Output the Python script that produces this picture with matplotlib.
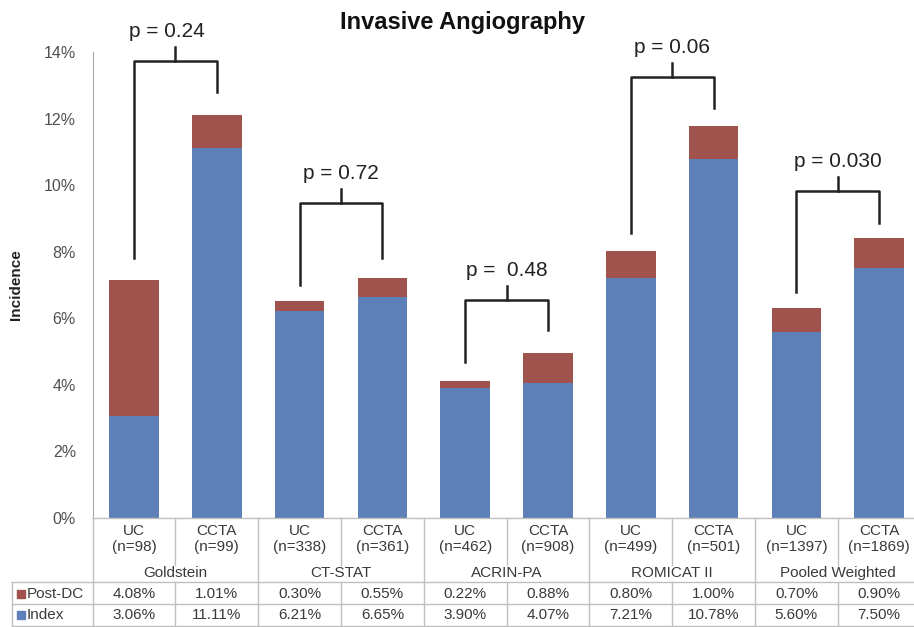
import matplotlib
matplotlib.use("Agg")
import matplotlib.pyplot as plt
from matplotlib.patches import Rectangle

plt.rcParams['font.family'] = ['Liberation Sans', 'DejaVu Sans']

# data
groups = ['Goldstein', 'CT-STAT', 'ACRIN-PA', 'ROMICAT II', 'Pooled Weighted']
arms = ['UC', 'CCTA'] * 5
n_pts = [98, 99, 338, 361, 462, 908, 499, 501, 1397, 1869]
index_pct = [3.06, 11.11, 6.21, 6.65, 3.90, 4.07, 7.21, 10.78, 5.60, 7.50]
postdc_pct = [4.08, 1.01, 0.30, 0.55, 0.22, 0.88, 0.80, 1.00, 0.70, 0.90]
p_labels = ['p = 0.24', 'p = 0.72', 'p =  0.48', 'p = 0.06', 'p = 0.030']
# bracket: left leg bottom, bar top, right leg bottom (in %)
br_left = [7.81, 7.0, 4.69, 8.56, 6.79]
br_top = [13.73, 9.46, 6.55, 13.25, 9.82]
br_right = [12.8, 7.81, 5.65, 12.32, 8.86]

BLUE = '#5D80B8'
RED = '#A0524D'
GRID = '#BFBFBF'
TXT = '#3A3A3A'

W, H = 914, 627
fig = plt.figure(figsize=(W / 100, H / 100), dpi=100)

slot = 82.8
x0 = 92.6
ax = fig.add_axes([x0 / W, (H - 518) / H, 10 * slot / W, (518 - 52) / H])
x = list(range(10))
ax.bar(x, index_pct, width=0.6, color=BLUE, label='Index')
ax.bar(x, postdc_pct, width=0.6, bottom=index_pct, color=RED, label='Post-DC')
ax.set_xlim(-0.5, 9.5)
ax.set_ylim(0, 14)
ax.set_yticks(range(0, 15, 2))
ax.set_yticklabels(['%d%%' % v for v in range(0, 15, 2)], fontsize=11.5, color='#505050')
ax.tick_params(axis='y', length=0, pad=12)
ax.set_xticks([])
for s in ['top', 'right', 'bottom']:
    ax.spines[s].set_visible(False)
ax.spines['left'].set_color('#A6A6A6')
ax.set_ylabel('Incidence', fontsize=11, fontweight='bold', labelpad=15, color='#222222')

# significance brackets
for g in range(5):
    l, r = 2 * g, 2 * g + 1
    m = (l + r) / 2
    top = br_top[g]
    ax.plot([l, l, r, r], [br_left[g], top, top, br_right[g]], color='#222222', lw=1.8, clip_on=False)
    ax.plot([m, m], [top, top + 0.43], color='#222222', lw=1.8, clip_on=False)
    ax.text(m - (0.1 if g == 0 else 0), top + 0.88, p_labels[g], ha='center', va='center',
            fontsize=15, color='#222222', clip_on=False)

fig.text(463 / W, 1 - 22 / H, 'Invasive Angiography', ha='center', va='center',
         fontsize=17, fontweight='bold', color='#111111')

# data table below the plot
left_col = 80.6 / slot
tx = fig.add_axes([12 / W, 0, (10 * slot + 80.6) / W, 109 / H])
tx.set_xlim(-0.5 - left_col, 9.5)
tx.set_ylim(109, 0)
tx.axis('off')
lk = dict(color=GRID, lw=1.0, clip_on=False)
xl = -0.5 - left_col
tx.plot([-0.5, 9.5], [0, 0], **lk)
for yy in [64, 85.5, 108]:
    tx.plot([xl, 9.5], [yy, yy], **lk)
tx.plot([xl, xl], [64, 108], **lk)
for b in [-0.5, 1.5, 3.5, 5.5, 7.5, 9.5]:
    tx.plot([b, b], [0, 108], **lk)
for b in [0.5, 2.5, 4.5, 6.5, 8.5]:
    tx.plot([b, b], [0, 47], **lk)
    tx.plot([b, b], [64, 108], **lk)

for i in range(10):
    tx.text(i, 21, '%s\n(n=%d)' % (arms[i], n_pts[i]), ha='center', va='center',
            fontsize=11, color=TXT, linespacing=1.2)
    tx.text(i, 76, '%.2f%%' % postdc_pct[i], ha='center', va='center', fontsize=11, color=TXT)
    tx.text(i, 97, '%.2f%%' % index_pct[i], ha='center', va='center', fontsize=11, color=TXT)
for g in range(5):
    tx.text(2 * g + 0.5, 55, groups[g], ha='center', va='center', fontsize=11, color=TXT)

sw = 8 / slot
for yy, c, lab in [(76, RED, 'Post-DC'), (97, BLUE, 'Index')]:
    tx.add_patch(Rectangle((xl + 5 / slot, yy - 4), sw, 8, color=c, clip_on=False))
    tx.text(xl + 15 / slot, yy, lab, ha='left', va='center', fontsize=11, color=TXT)

fig.savefig('out.png', dpi=100)
